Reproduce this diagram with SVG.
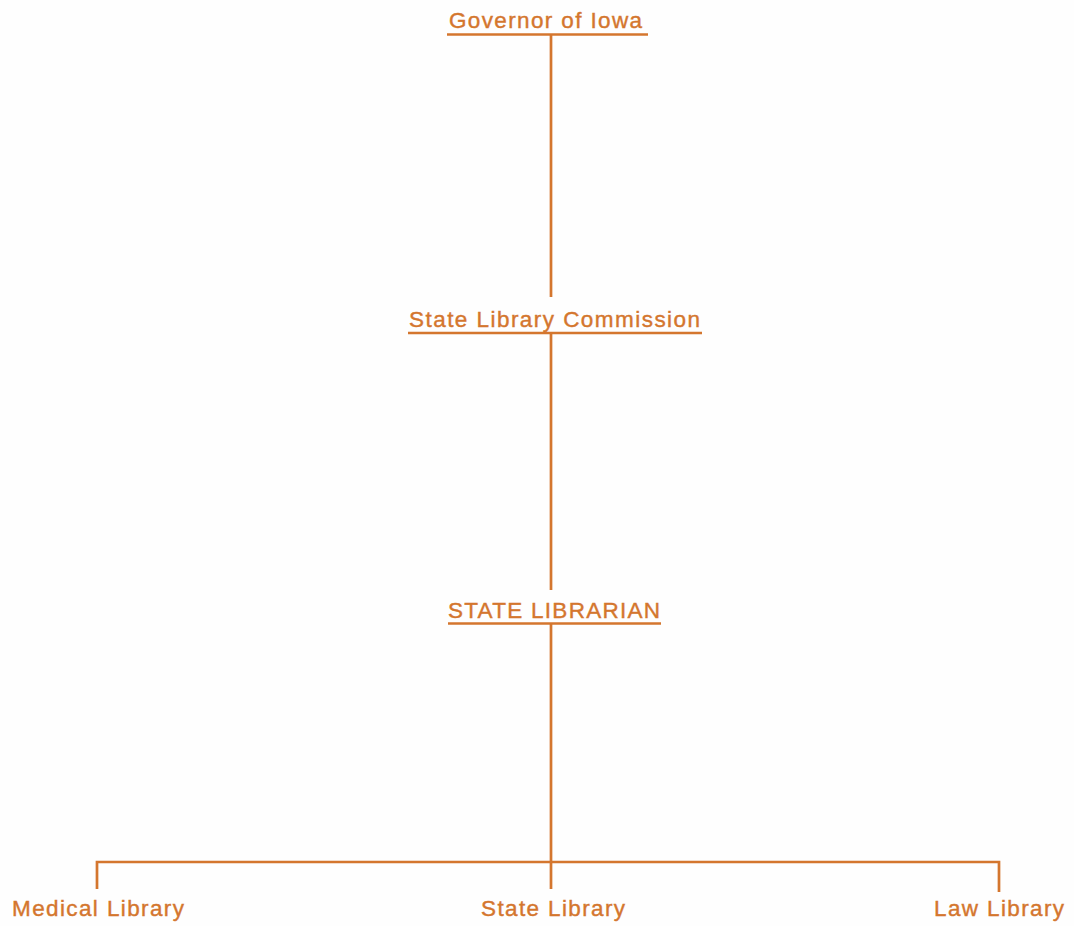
<svg xmlns="http://www.w3.org/2000/svg" width="1074" height="926" viewBox="0 0 1074 926">
<style>
.t{font-family:"Liberation Sans",Arial,sans-serif;font-size:22.5px;fill:#d4762e;stroke:#d4762e;stroke-width:0.4}
.l{stroke:#d4762e;stroke-width:2.7;fill:none}
</style>
<rect width="1074" height="926" fill="#fefefe"/>
<g id="connectors">
<path class="l" d="M551 35V297"/>
<path class="l" d="M551 334V590"/>
<path class="l" d="M551 624V889"/>
<path class="l" d="M97 889V862H999V892"/>
</g>
<g id="governor">
<text class="t" x="449" y="28" textLength="193" lengthAdjust="spacing">Governor of Iowa</text>
<path class="l" d="M447 34.5H648"/>
</g>
<g id="commission">
<text class="t" x="409" y="327" textLength="291" lengthAdjust="spacing">State Library Commission</text>
<path class="l" d="M408 333H702"/>
</g>
<g id="librarian">
<text class="t" x="448" y="618" textLength="212" lengthAdjust="spacing">STATE LIBRARIAN</text>
<path class="l" d="M448 623.5H661"/>
</g>
<g id="medical">
<text class="t" x="12" y="916" textLength="172" lengthAdjust="spacing">Medical Library</text>
</g>
<g id="state">
<text class="t" x="481" y="916" textLength="144" lengthAdjust="spacing">State Library</text>
</g>
<g id="law">
<text class="t" x="934" y="916" textLength="130" lengthAdjust="spacing">Law Library</text>
</g>
</svg>
